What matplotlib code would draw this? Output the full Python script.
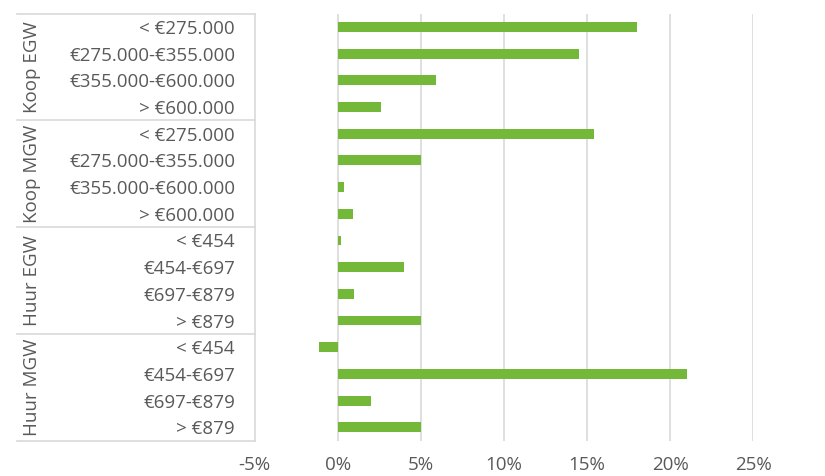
import matplotlib
matplotlib.use("Agg")
import matplotlib.pyplot as plt
import numpy as np

plt.rcParams['font.family'] = ['Open Sans', 'DejaVu Sans']

groups = ["Koop EGW", "Koop MGW", "Huur EGW", "Huur MGW"]
koop_labels = ["< €275.000", "€275.000-€355.000", "€355.000-€600.000", "> €600.000"]
huur_labels = ["< €454", "€454-€697", "€697-€879", "> €879"]
categories = koop_labels + koop_labels + huur_labels + huur_labels
values = [18.0, 14.5, 5.9, 2.6,
          15.4, 5.0, 0.4, 0.9,
          0.2, 4.0, 1.0, 5.0,
          -1.1, 21.0, 2.0, 5.0]
xticks = [-5, 0, 5, 10, 15, 20, 25]

green = '#74b83a'
grey_txt = '#595959'
grid_c = '#d9d9d9'
fs = 13.5

fig = plt.figure(figsize=(8.25, 4.76), dpi=100)
ax = fig.add_axes([0.3085, 0.0742, 0.6044, 0.8974])

n = len(categories)
y = np.arange(n)
ax.barh(y, values, height=0.37, color=green, zorder=3)
ax.set_ylim(n - 0.5, -0.5)
ax.set_xlim(-5, 25)

ax.set_xticks(xticks)
ax.set_xticklabels([f"{t}%" for t in xticks])
ax.set_yticks(y)
ax.set_yticklabels(categories)
ax.tick_params(axis='x', length=0, pad=11, labelsize=fs, labelcolor=grey_txt)
ax.tick_params(axis='y', length=0, pad=14, labelsize=fs, labelcolor=grey_txt)

for t in xticks[1:]:
    ax.axvline(t, color=grid_c, lw=1.2, zorder=1)

for s in ['top', 'right', 'bottom']:
    ax.spines[s].set_visible(False)
ax.spines['left'].set_color(grid_c)
ax.spines['left'].set_linewidth(1.2)

# group separators and labels on the left
tr = ax.get_yaxis_transform()
x0 = (17 - 254.5) / 498.8
for b in [-0.5, 3.5, 7.5, 11.5, 15.5]:
    ax.plot([x0, 0], [b, b], transform=tr, color=grid_c, lw=1.2, clip_on=False)
gx = (32 - 254.5) / 498.8
for i, g in enumerate(groups):
    ax.text(gx, i * 4 + 1.5, g, transform=tr, rotation=90, ha='center', va='center',
            fontsize=fs, color=grey_txt)

fig.savefig("out.png", dpi=100)
